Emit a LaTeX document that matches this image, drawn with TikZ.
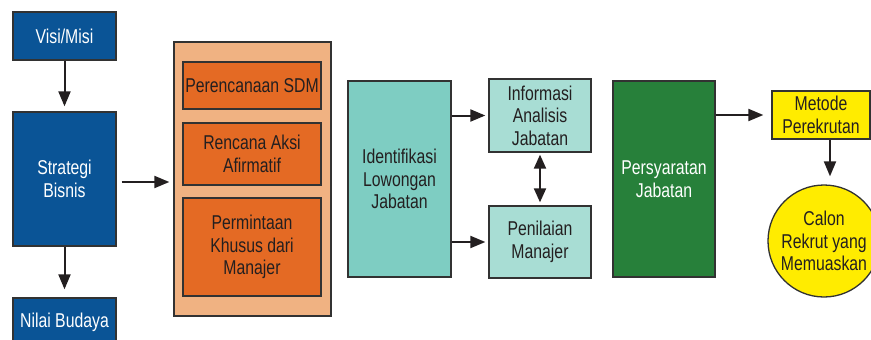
\documentclass[tikz,border=0pt]{standalone}
\usepackage{fontspec}
\setmainfont[FakeStretch=0.79]{Liberation Sans}
\usetikzlibrary{arrows.meta}
\definecolor{bluebox}{RGB}{10,84,150}
\definecolor{peach}{RGB}{240,178,130}
\definecolor{orangebox}{RGB}{228,106,36}
\definecolor{tealdark}{RGB}{126,205,194}
\definecolor{teallight}{RGB}{168,221,212}
\definecolor{greenbox}{RGB}{39,128,58}
\definecolor{yellowbox}{RGB}{255,236,0}
\definecolor{ink}{RGB}{35,31,32}
\definecolor{edge}{RGB}{50,50,50}
\tikzset{
  box/.style={draw=edge, line width=1.3pt, inner sep=0pt, align=center,
    font=\fontsize{20}{22.5}\selectfont, text=ink},
  darkbox/.style={box, text=white},
  flow/.style={draw=ink, line width=2pt, -{Triangle[length=15pt,width=12pt]}},
  twoway/.style={draw=ink, line width=2pt, {Triangle[length=14pt,width=12pt]}-{Triangle[length=14pt,width=12pt]}},
}
\begin{document}
\begin{tikzpicture}[x=1pt,y=-1pt]
\useasboundingbox (0,0) rectangle (871,340);
\clip (0,0) rectangle (871,340);

% strategic inputs
\node[darkbox, fill=bluebox, minimum width=103pt, minimum height=48pt] (visi) at (64.5,36) {Visi/Misi};
\node[darkbox, fill=bluebox, minimum width=103pt, minimum height=134pt] (strategi) at (64.5,179) {Strategi\\Bisnis};
\node[darkbox, fill=bluebox, minimum width=103pt, minimum height=48pt] (nilai) at (64.5,322) {Nilai Budaya};

% planning group
\node[box, fill=peach, minimum width=157pt, minimum height=274pt] (group) at (252.5,179) {};
\node[box, fill=orangebox, minimum width=138pt, minimum height=47pt] (sdm) at (252,85.5) {Perencanaan SDM};
\node[box, fill=orangebox, minimum width=138pt, minimum height=62pt] (aksi) at (252,154) {Rencana Aksi\\Afirmatif};
\node[box, fill=orangebox, minimum width=138pt, minimum height=98pt] (permintaan) at (252,247) {Permintaan\\Khusus dari\\Manajer};

% job analysis
\node[box, fill=tealdark, minimum width=103pt, minimum height=196pt] (ident) at (399.5,179) {Identifikasi\\Lowongan\\Jabatan};
\node[box, fill=teallight, minimum width=102pt, minimum height=73pt] (info) at (540,115.5) {Informasi\\Analisis\\Jabatan};
\node[box, fill=teallight, minimum width=102pt, minimum height=72pt] (nilaimgr) at (540,242) {Penilaian\\Manajer};

% requirements and recruiting
\node[darkbox, fill=greenbox, minimum width=102pt, minimum height=196pt] (syarat) at (664,179) {Persyaratan\\Jabatan};
\node[box, fill=yellowbox, minimum width=98pt, minimum height=48pt] (metode) at (821,115) {Metode\\Perekrutan};
\node[box, fill=yellowbox, circle, minimum size=112pt] (calon) at (824,241) {Calon\\Rekrut yang\\Memuaskan};

% connectors
\draw[flow, shorten >=5pt] (visi.south) -- (strategi.north);
\draw[flow, shorten >=8pt] (strategi.south) -- (nilai.north);
\draw[flow, shorten <=5pt, shorten >=4pt] ([yshift=-3pt]strategi.east) -- ([yshift=-3pt]group.west);
\draw[flow, shorten >=3pt] (ident.east |- info.west) -- (info.west);
\draw[flow, shorten >=3pt] (ident.east |- nilaimgr.west) -- (nilaimgr.west);
\draw[twoway, shorten <=2pt, shorten >=3pt] (info.south) -- (nilaimgr.north);
\draw[flow, shorten >=8pt] (syarat.east |- metode.west) -- (metode.west);
\draw[flow, shorten >=8pt] ([xshift=9pt]metode.south) -- ([xshift=9pt]metode.south |- calon.north);
\end{tikzpicture}
\end{document}
